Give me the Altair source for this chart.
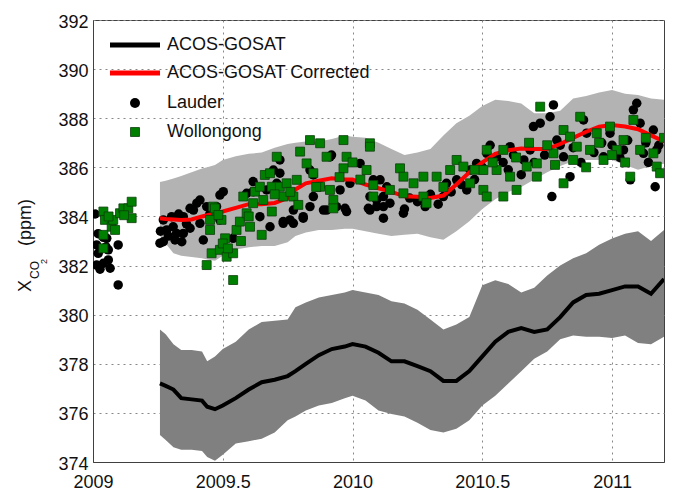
import altair as alt
import pandas as pd

# ---- band / line data (year grid) ----
years = [2009.258, 2009.28, 2009.31, 2009.34, 2009.38, 2009.42, 2009.44, 2009.47, 2009.50, 2009.55,
         2009.60, 2009.65, 2009.70, 2009.75, 2009.78, 2009.82, 2009.87, 2009.92, 2009.97, 2010.0,
         2010.05, 2010.1, 2010.15, 2010.2, 2010.25, 2010.3, 2010.35, 2010.4, 2010.45, 2010.5,
         2010.55, 2010.6, 2010.65, 2010.7, 2010.75, 2010.8, 2010.85, 2010.9, 2010.95, 2011.0,
         2011.05, 2011.1, 2011.15, 2011.2]

acos = [377.2, 377.1, 376.95, 376.6, 376.55, 376.5, 376.25, 376.15, 376.3, 376.6,
        376.95, 377.25, 377.35, 377.5, 377.7, 378.0, 378.35, 378.6, 378.7, 378.8,
        378.7, 378.45, 378.1, 378.1, 377.9, 377.7, 377.3, 377.3, 377.7, 378.3,
        378.9, 379.3, 379.45, 379.3, 379.4, 379.9, 380.5, 380.8, 380.85, 381.0,
        381.15, 381.15, 380.85, 381.45]
acos_hi = [379.4, 379.2, 378.8, 378.56, 378.56, 378.5, 378.1, 378.3, 378.6, 378.9,
           379.4, 379.7, 379.75, 379.8, 380.3, 380.5, 380.7, 380.8, 380.9, 381.0,
           380.9, 380.8, 380.55, 380.45, 380.2, 379.8, 379.4, 379.6, 379.9, 381.2,
           381.4, 381.25, 380.9, 381.1, 381.6, 382.0, 382.3, 382.5, 382.85, 383.1,
           383.3, 383.4, 383.0, 383.45]
acos_lo = [375.1, 374.9, 374.6, 374.5, 374.5, 374.45, 374.2, 374.05, 374.3, 374.75,
           374.85, 374.95, 375.2, 375.7, 375.85, 376.1, 376.3, 376.4, 376.6, 376.7,
           376.5, 376.1, 375.95, 375.85, 375.6, 375.3, 375.2, 375.35, 375.7, 376.3,
           376.7, 377.2, 377.7, 378.2, 378.5, 379.0, 379.15, 379.1, 379.1, 379.05,
           379.15, 378.85, 378.8, 379.1]

corr = [383.93, 383.9, 383.88, 383.86, 383.88, 384.0, 384.05, 384.12, 384.2, 384.35,
        384.5, 384.5, 384.55, 384.75, 385.1, 385.35, 385.45, 385.55, 385.5, 385.5,
        385.3, 385.15, 385.0, 384.82, 384.8, 384.75, 384.85, 385.3, 385.8, 386.2,
        386.55, 386.7, 386.77, 386.75, 386.75, 386.95, 387.2, 387.45, 387.65, 387.72,
        387.66, 387.55, 387.3, 387.05]
corr_hi = [385.4, 385.45, 385.55, 385.65, 385.8, 385.95, 386.0, 386.1, 386.3, 386.45,
           386.55, 386.6, 386.8, 386.95, 387.0, 387.05, 387.05, 387.15, 387.3, 387.25,
           387.2, 387.0, 386.75, 386.5, 386.6, 386.75, 387.3, 387.8, 388.1, 388.5,
           388.75, 388.7, 388.6, 388.2, 388.2, 388.3, 388.8, 388.9, 389.05, 389.15,
           389.0, 388.95, 388.8, 388.75]
corr_lo = [383.2, 382.9, 382.5, 382.4, 382.35, 382.3, 382.25, 382.2, 382.4, 382.65,
           382.75, 382.8, 382.8, 382.95, 383.2, 383.35, 383.45, 383.45, 383.5, 383.5,
           383.4, 383.3, 383.2, 383.25, 383.3, 383.15, 383.05, 383.4, 383.8, 384.3,
           384.7, 385.0, 385.2, 385.5, 385.8, 386.05, 386.25, 386.3, 386.3, 386.3,
           386.1, 385.9, 386.05, 386.15]

# ---- Lauder ----
lauder_year = [2009.008, 2009.02, 2009.04, 2009.014, 2009.02, 2009.014, 2009.04, 2009.053, 2009.059, 2009.066,
               2009.059, 2009.05, 2009.097, 2009.097, 2009.027,
               2009.271, 2009.284, 2009.271, 2009.309, 2009.316, 2009.348, 2009.348, 2009.374, 2009.387, 2009.40,
               2009.412, 2009.438, 2009.425, 2009.489, 2009.342, 2009.476, 2009.303, 2009.258, 2009.322, 2009.374,
               2009.412, 2009.502, 2009.489, 2009.29, 2009.36, 2009.33, 2009.45, 2009.26,
               2009.54, 2009.592, 2009.617, 2009.669, 2009.695, 2009.72, 2009.72, 2009.708, 2009.733, 2009.759,
               2009.772, 2009.81, 2009.836, 2009.849, 2009.875, 2009.90, 2009.919, 2009.952, 2009.971, 2009.99,
               2010.029, 2010.061, 2010.093, 2010.08, 2009.617, 2009.643, 2009.682, 2009.733, 2009.772, 2009.81,
               2009.888, 2009.938, 2009.977, 2009.913, 2010.067, 2010.119, 2010.119, 2010.106, 2010.144, 2010.196,
               2010.132, 2009.836, 2009.849,
               2010.093, 2010.119, 2010.067, 2010.362, 2010.35, 2010.401, 2010.453, 2010.44, 2010.478, 2010.607,
               2010.684, 2010.697, 2010.723, 2010.761, 2010.774, 2010.768, 2010.787, 2010.813, 2010.838, 2010.89,
               2010.902, 2010.967, 2010.992, 2011.044, 2011.07, 2011.082, 2011.095, 2011.108, 2011.121, 2011.159,
               2011.166, 2011.172, 2010.555, 2010.517, 2010.2, 2010.25, 2010.28, 2010.3, 2010.22, 2010.33,
               2010.38, 2010.42, 2010.47, 2010.5, 2010.53, 2010.58, 2010.62, 2010.66, 2010.7, 2010.74,
               2010.8, 2010.85, 2010.88, 2010.93, 2010.96, 2011.0, 2011.03, 2011.06, 2011.13, 2011.18,
               2011.14, 2010.6, 2010.65]
lauder_xco2 = [384.1, 383.3, 383.15, 382.84, 382.5, 382.02, 382.09, 383.11, 382.23, 381.89,
               382.64, 382.76, 382.84, 381.21, 381.85,
               383.86, 383.45, 382.97, 383.58, 383.04, 383.99, 383.31, 383.52, 384.26, 384.54,
               383.72, 384.40, 383.04, 384.87, 382.97, 384.40, 383.99, 382.91, 383.31, 384.33,
               384.67, 385.01, 383.86, 383.2, 383.7, 384.1, 384.1, 383.4,
               383.11, 384.94, 385.01, 385.08, 385.89, 386.30, 385.76, 385.35, 383.79, 383.86,
               384.26, 383.99, 384.40, 384.81, 385.21, 384.26, 386.50, 385.08, 384.33, 385.35,
               386.16, 384.33, 384.67, 385.49, 385.42, 383.99, 383.58, 383.72, 383.72, 383.93,
               384.26, 384.40, 384.20, 386.43, 384.26, 384.40, 384.81, 385.49, 384.54, 384.13,
               385.21, 385.89, 385.69,
               384.40, 383.93, 384.81, 385.35, 384.81, 385.49, 385.89, 385.08, 386.16, 386.84,
               386.71, 387.66, 387.80, 388.06, 388.54, 384.81, 387.11, 386.43, 385.62, 387.93,
               387.39, 386.43, 387.39, 386.71, 385.49, 388.34, 388.61, 387.80, 386.57, 387.52,
               385.21, 386.71, 386.43, 386.57, 384.3, 384.6, 384.4, 384.9, 384.75, 384.5,
               385.0, 385.3, 385.5, 386.0, 386.9, 386.2, 386.5, 386.3, 386.2, 386.5,
               386.9, 386.8, 386.2, 386.6, 387.0, 386.9, 386.4, 387.1, 387.0, 386.9,
               386.2, 385.9, 385.7]

# ---- Wollongong ----
woll_year = [2009.04, 2009.046, 2009.072, 2009.078, 2009.104, 2009.117, 2009.136, 2009.149, 2009.149, 2009.04,
             2009.04, 2009.085, 2009.06, 2009.12,
             2009.463, 2009.476, 2009.451, 2009.495, 2009.47, 2009.451, 2009.457, 2009.438, 2009.489, 2009.483,
             2009.54, 2009.509, 2009.515, 2009.54, 2009.553, 2009.566, 2009.579, 2009.592, 2009.605, 2009.617,
             2009.624, 2009.643, 2009.656, 2009.650, 2009.662, 2009.682, 2009.689, 2009.689, 2009.708, 2009.72,
             2009.733, 2009.746, 2009.772, 2009.785, 2009.791, 2009.798, 2009.823, 2009.836, 2009.875, 2009.90,
             2009.849, 2009.875, 2009.913, 2009.926, 2009.926, 2009.965, 2009.965, 2009.977, 2010.067, 2010.054,
             2010.08, 2010.08, 2009.5, 2009.52, 2009.57, 2009.6, 2009.7, 2009.76, 2009.86, 2009.95,
             2010.0, 2010.03,
             2010.067, 2010.183, 2010.196, 2010.235, 2010.273, 2010.273, 2010.285, 2010.196, 2010.144, 2010.517,
             2010.504, 2010.555, 2010.581, 2010.504, 2010.517, 2010.581, 2010.632, 2010.607, 2010.671, 2010.71,
             2010.71, 2010.723, 2010.774, 2010.813, 2010.813, 2010.838, 2010.877, 2010.864, 2010.915, 2010.941,
             2010.967, 2010.992, 2011.018, 2011.044, 2011.082, 2011.07, 2011.108, 2011.159, 2011.172, 2011.185,
             2010.401, 2010.376, 2010.324, 2010.453, 2010.427, 2010.35, 2010.47, 2010.54, 2010.63, 2010.68,
             2010.75, 2010.78, 2010.85, 2010.9, 2010.95, 2011.0, 2011.05, 2011.13, 2011.2]
woll_xco2 = [384.20, 383.86, 383.58, 383.86, 384.13, 384.33, 384.33, 384.60, 383.93, 383.25,
             382.70, 383.45, 384.0, 384.05,
             384.40, 384.06, 383.86, 383.86, 384.33, 383.45, 382.50, 382.02, 382.64, 384.06,
             381.41, 383.11, 382.36, 382.50, 383.45, 383.79, 384.81, 384.13, 383.58, 384.54,
             385.01, 385.21, 384.67, 383.25, 385.69, 385.76, 385.21, 384.20, 386.43, 385.21,
             384.81, 385.35, 384.81, 385.49, 384.47, 386.64, 386.16, 387.11, 386.98, 386.43,
             385.76, 385.21, 385.08, 384.67, 384.33, 385.96, 387.11, 386.43, 386.98, 385.89,
             385.28, 384.81, 382.9, 382.7, 383.0, 384.0, 384.9, 385.0, 385.2, 385.6,
             386.2, 385.5,
             386.84, 385.96, 385.62, 385.35, 385.62, 384.81, 384.54, 384.94, 385.08, 386.71,
             385.89, 385.89, 386.71, 385.08, 384.81, 384.81, 385.08, 385.62, 386.03, 385.62,
             386.16, 388.47, 386.57, 385.35, 387.52, 387.25, 388.06, 386.84, 386.71, 387.39,
             386.30, 387.66, 386.71, 387.11, 387.93, 385.62, 386.71, 386.57, 386.03, 385.76,
             386.30, 385.89, 385.62, 385.35, 386.03, 385.2, 385.9, 386.2, 386.4, 387.0,
             386.9, 386.1, 386.3, 386.0, 387.0, 386.5, 386.2, 387.2, 387.2]

legend_labels = ["ACOS-GOSAT", "ACOS-GOSAT Corrected", "Lauder", "Wollongong"]

x_ticks = [2009, 2009.5, 2010, 2010.5, 2011]
y_ticks = [374, 376, 378, 380, 382, 384, 386, 388, 390, 392]

FONT = "Liberation Sans"

bands = pd.DataFrame({"year": years, "acos": acos, "acos_hi": acos_hi, "acos_lo": acos_lo,
                      "corr": corr, "corr_hi": corr_hi, "corr_lo": corr_lo})
lauder = pd.DataFrame({"year": lauder_year, "xco2": lauder_xco2})
woll = pd.DataFrame({"year": woll_year, "xco2": woll_xco2})

xs = alt.Scale(domain=[2009, 2011.2], nice=False, zero=False)
ys = alt.Scale(domain=[374, 392], nice=False, zero=False)

xaxis = alt.Axis(values=x_ticks, labelExpr="datum.value + ''", title=None, grid=True,
                 gridDash=[2, 4], gridColor="#888888", gridWidth=1, domainColor="#404040",
                 tickSize=0, labelFont=FONT, labelFontSize=18, labelColor="#111111",
                 labelPadding=11, labelFlush=False)
yaxis = alt.Axis(values=y_ticks, format="d", title=None, grid=True,
                 gridDash=[2, 4], gridColor="#888888", gridWidth=1, domainColor="#404040",
                 tickSize=0, labelFont=FONT, labelFontSize=18, labelColor="#111111",
                 labelPadding=5, labelBaseline="middle", labelOffset=2)

base = alt.Chart(bands)

light = base.mark_area(color="#b3b3b3", opacity=1, clip=True).encode(
    x=alt.X("year:Q", scale=xs, axis=xaxis),
    y=alt.Y("corr_lo:Q", scale=ys, axis=yaxis),
    y2="corr_hi:Q")
dark = base.mark_area(color="#808080", opacity=1, clip=True).encode(
    x=alt.X("year:Q", scale=xs), y=alt.Y("acos_lo:Q", scale=ys), y2="acos_hi:Q")
black_line = base.mark_line(color="#000000", strokeWidth=4, clip=True).encode(
    x=alt.X("year:Q", scale=xs), y=alt.Y("acos:Q", scale=ys))
red_line = base.mark_line(color="#ff0000", strokeWidth=4, clip=True).encode(
    x=alt.X("year:Q", scale=xs), y=alt.Y("corr:Q", scale=ys))

lauder_pts = alt.Chart(lauder).mark_circle(color="#000000", size=90, opacity=1, clip=True).encode(
    x=alt.X("year:Q", scale=xs), y=alt.Y("xco2:Q", scale=ys))
woll_pts = alt.Chart(woll).mark_point(shape="square", filled=True, fill="#008000", stroke="#0b3d0b",
                                      strokeWidth=0.8, size=80, opacity=1, clip=True).encode(
    x=alt.X("year:Q", scale=xs), y=alt.Y("xco2:Q", scale=ys))

# ---- legend (manual, MATLAB style) ----
leg = pd.DataFrame({"label": legend_labels, "py": [25, 53, 83, 112]})
leg_text = alt.Chart(leg).mark_text(align="left", baseline="middle", font=FONT, fontSize=18,
                                    color="#111111", dx=0).encode(
    x=alt.value(74), y=alt.Y("py:Q", scale=None), text="label:N")
leg_black = alt.Chart(leg).transform_filter("datum.label == 'ACOS-GOSAT'").mark_rule(
    color="#000000", strokeWidth=5).encode(x=alt.value(17), x2=alt.value(67), y=alt.Y("py:Q", scale=None))
leg_red = alt.Chart(leg).transform_filter("datum.label == 'ACOS-GOSAT Corrected'").mark_rule(
    color="#ff0000", strokeWidth=5).encode(x=alt.value(17), x2=alt.value(67), y=alt.Y("py:Q", scale=None))
leg_dot = alt.Chart(leg).transform_filter("datum.label == 'Lauder'").mark_circle(
    color="#000000", size=100, opacity=1).encode(x=alt.value(42), y=alt.Y("py:Q", scale=None))
leg_sq = alt.Chart(leg).transform_filter("datum.label == 'Wollongong'").mark_point(
    shape="square", filled=True, fill="#008000", stroke="#0b3d0b", strokeWidth=0.8, size=80,
    opacity=1).encode(x=alt.value(42), y=alt.Y("py:Q", scale=None))

# ---- y axis title: X_{CO_2} (ppm) ----
ytitle = pd.DataFrame({"t": ["X", "CO", "2", "(ppm)"],
                       "px": [-62, -54, -46, -62],
                       "py": [272, 259, 244, 226],
                       "fs": [18, 12, 9, 18]})
ytitle_marks = alt.Chart(ytitle).mark_text(align="left", baseline="alphabetic", angle=270,
                                           font=FONT, color="#111111").encode(
    x=alt.X("px:Q", scale=None), y=alt.Y("py:Q", scale=None), text="t:N",
    size=alt.Size("fs:Q", scale=None, legend=None))

chart = alt.layer(light, dark, black_line, lauder_pts, red_line, woll_pts,
                  leg_black, leg_red, leg_dot, leg_sq, leg_text, ytitle_marks).properties(
    width=571, height=442,
    autosize=alt.AutoSizeParams(type="none"),
    padding={"left": 85, "top": 12, "right": 22, "bottom": 34},
    background="white",
).configure_view(stroke="#404040", strokeWidth=1)

chart.save("out.html", embed_options={"renderer": "svg", "actions": False})
